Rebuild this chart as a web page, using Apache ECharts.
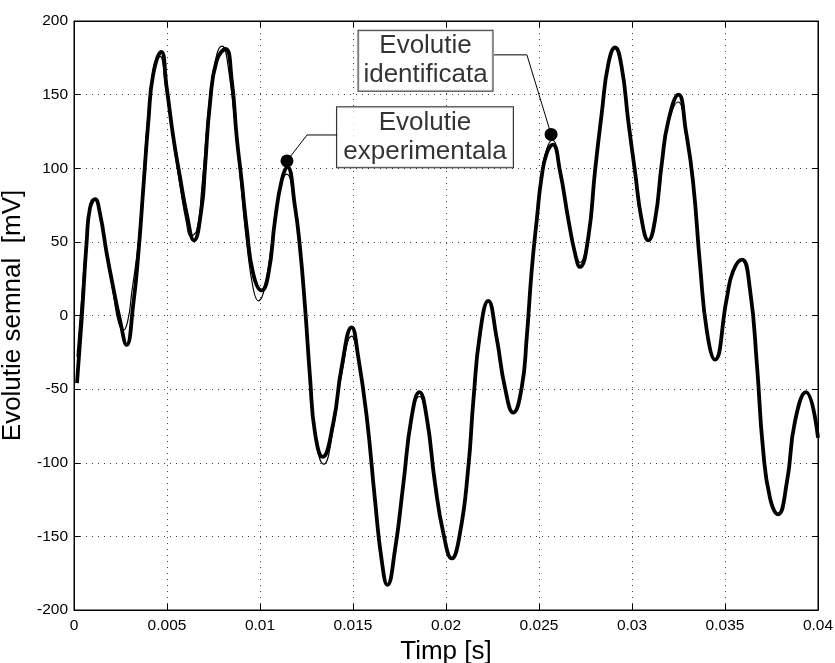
<!DOCTYPE html>
<html><head><meta charset="utf-8">
<script src="https://cdn.jsdelivr.net/npm/echarts@6/dist/echarts.min.js"></script>
<style>html,body{margin:0;padding:0;background:#fff}#c{width:835px;height:663px}</style>
</head><body><div id="c"></div>
<script>
// Thick curve (time [s], value [mV])
const tThick = [0.00016,0.00041,0.00068,0.00086,0.00113,0.0014,0.00176,0.00211,0.00247,0.00283,0.00319,0.00346,0.00373,0.004,0.00426,0.00469,0.00498,0.00534,0.0057,0.00606,0.00645,0.00686,0.00704,0.00731,0.00767,0.00815,0.00848,0.00875,0.00901,0.00928,0.00964,0.01009,0.01045,0.01081,0.01117,0.01147,0.01188,0.01215,0.01242,0.01269,0.01296,0.01337,0.01394,0.01439,0.01493,0.01528,0.01574,0.01618,0.01654,0.01685,0.01726,0.01771,0.01815,0.01857,0.01896,0.01941,0.01986,0.02031,0.02075,0.0212,0.02147,0.02183,0.02227,0.02272,0.02317,0.02362,0.02407,0.02434,0.02461,0.02488,0.02514,0.02541,0.02574,0.02613,0.02658,0.02694,0.0272,0.02765,0.02801,0.02837,0.02873,0.02909,0.02944,0.0298,0.03016,0.03052,0.03088,0.03124,0.0316,0.03195,0.0325,0.0329,0.03328,0.03366,0.03403,0.03446,0.0351,0.03543,0.03591,0.03634,0.03672,0.03704,0.03742,0.03785,0.03833,0.03876,0.03935,0.04];
const vThick = [-46,-3,50,73,79,69,42,19,-3,-20,8,42,87,132,164,179,155,121,94,69,51,73,100,144,173,181,160,121,92,60,28,17,28,65,92,101,74,46,6,-42,-80,-96,-73,-35,-8,-28,-69,-125,-166,-183,-159,-114,-69,-52,-69,-114,-148,-165,-148,-103,-58,-12,10,-15,-49,-66,-49,-15,31,65,94,110,116,98,65,42,33,53,98,137,171,182,169,132,98,65,51,65,103,132,150,125,91,34,-11,-30,12,30,38,18,-34,-90,-124,-135,-113,-72,-52,-83];
// Thin curve (time [s], value [mV])
const tThin = [0.00016,0.0004,0.00068,0.00086,0.00113,0.0014,0.00176,0.00211,0.0024,0.00265,0.0029,0.0031,0.00346,0.00373,0.004,0.0043,0.00444,0.00463,0.0049,0.00534,0.0057,0.00606,0.00626,0.0066,0.00686,0.00731,0.00767,0.00796,0.0083,0.00875,0.00901,0.00928,0.00964,0.00991,0.01027,0.01081,0.01117,0.01143,0.01188,0.01215,0.01242,0.01269,0.01296,0.01342,0.01394,0.01439,0.01493,0.01528,0.01574,0.01618,0.01654,0.01685,0.01726,0.01771,0.01815,0.01857,0.01896,0.01941,0.01986,0.02031,0.02075,0.0212,0.02147,0.02183,0.02227,0.02272,0.02317,0.02362,0.02407,0.02434,0.02461,0.02488,0.02514,0.02541,0.02572,0.02613,0.02658,0.02694,0.0272,0.02765,0.02801,0.02837,0.02873,0.02909,0.02944,0.0298,0.03016,0.03052,0.03088,0.03124,0.0316,0.03195,0.03248,0.0329,0.03328,0.03366,0.03403,0.03446,0.0351,0.03543,0.03591,0.03634,0.03672,0.03704,0.03742,0.03785,0.03833,0.03876,0.03935,0.04];
const vThin = [-28,10,55,74,79,68,40,15,-5,-10,-3,15,50,95,140,170,173,176,158,118,88,62,54,58,85,150,177,183,168,118,84,50,18,10,20,66,90,96,72,44,4,-44,-82,-101,-77,-40,-14,-30,-70,-125,-166,-183,-159,-114,-69,-55,-70,-114,-148,-165,-148,-103,-58,-12,10,-15,-49,-66,-49,-15,31,66,96,113,119,98,65,44,36,55,98,137,171,182,168,131,97,64,51,64,101,130,145,122,89,33,-11,-30,12,30,38,18,-34,-90,-124,-135,-113,-72,-52,-83];

const xTickLabels = ['0','0.005','0.01','0.015','0.02','0.025','0.03','0.035','0.04'];
const yTickLabels = ['-200','-150','-100','-50','0','50','100','150','200'];

// Annotations (data coordinates)
const annoTexts = ['Evolutie\nexperimentala', 'Evolutie\nidentificata'];
const annoMarkerT = [0.01145, 0.02565];
const annoMarkerV = [105, 123];
const annoElbowT = [0.01253, 0.02435];
const annoElbowV = [122.6, 177];
const annoEdgeT = [0.01419, 0.02258];
const annoBoxT = [0.01887, 0.0189];
const annoBoxV = [121, 173];

const FONT = 'Liberation Sans, Arial, sans-serif';
const zip = (a, b) => a.map((x, i) => [x, b[i]]);

const chart = echarts.init(document.getElementById('c'), null, {renderer: 'canvas'});

const axisCommon = {
  type: 'value',
  axisLine: {show: true, onZero: false, lineStyle: {color: '#000', width: 1}},
  axisTick: {show: true, inside: true, length: 6, lineStyle: {color: '#000'}},
};

const option = {
  backgroundColor: '#fff',
  animation: false,
  grid: {left: 74, right: 17, top: 21, bottom: 53, containLabel: false, outerBoundsMode: 'none',
         show: true, borderColor: '#000', borderWidth: 1},
  xAxis: [
    Object.assign({}, axisCommon, {
      min: 0, max: 0.04, interval: 0.005, position: 'bottom',
      name: 'Timp [s]', nameLocation: 'middle', nameGap: 24,
      nameTextStyle: {fontFamily: FONT, fontSize: 26, color: '#000'},
      axisLabel: {show: true, margin: 8, fontFamily: FONT, fontSize: 15.5, color: '#000',
        formatter: (v, i) => xTickLabels[i]},
      splitLine: {show: true, lineStyle: {color: '#444', type: [1, 5], width: 1}}
    }),
    Object.assign({}, axisCommon, {
      min: 0, max: 0.04, interval: 0.005, position: 'top',
      axisLabel: {show: false}, splitLine: {show: false}
    })
  ],
  yAxis: [
    Object.assign({}, axisCommon, {
      min: -200, max: 200, interval: 50, position: 'left',
      name: 'Evolutie semnal  [mV]', nameLocation: 'middle', nameGap: 36,
      nameTextStyle: {fontFamily: FONT, fontSize: 26, color: '#000'},
      axisLabel: {show: true, margin: 6, fontFamily: FONT, fontSize: 15.5, color: '#000',
        formatter: (v, i) => yTickLabels[i]},
      splitLine: {show: true, lineStyle: {color: '#444', type: [1, 5], width: 1}}
    }),
    Object.assign({}, axisCommon, {
      min: -200, max: 200, interval: 50, position: 'right',
      axisLabel: {show: false}, splitLine: {show: false}
    })
  ],
  series: [
    {
      name: 'thick', type: 'line', data: zip(tThick, vThick), smooth: 0.5,
      showSymbol: false, symbol: 'none',
      lineStyle: {color: '#000', width: 3.8}, z: 3
    },
    {
      name: 'thin', type: 'line', data: zip(tThin, vThin), smooth: 0.5,
      showSymbol: false, symbol: 'none',
      lineStyle: {color: '#000', width: 1.2}, z: 4
    },
    {
      name: 'leader1', type: 'line', symbol: 'none', silent: true,
      data: [[annoMarkerT[0], annoMarkerV[0]], [annoElbowT[0], annoElbowV[0]], [annoEdgeT[0], annoElbowV[0]]],
      lineStyle: {color: '#000', width: 1}, z: 5
    },
    {
      name: 'leader2', type: 'line', symbol: 'none', silent: true,
      data: [[annoMarkerT[1], annoMarkerV[1]], [annoElbowT[1], annoElbowV[1]], [annoEdgeT[1], annoElbowV[1]]],
      lineStyle: {color: '#000', width: 1}, z: 5
    },
    {
      name: 'markers', type: 'scatter', symbol: 'circle', symbolSize: 13,
      data: zip(annoMarkerT, annoMarkerV),
      itemStyle: {color: '#000', opacity: 1}, z: 6
    },
    {
      name: 'boxes', type: 'scatter', symbolSize: 1,
      itemStyle: {color: 'rgba(0,0,0,0)'}, z: 7,
      data: annoBoxT.map((t, i) => ({
        value: [t, annoBoxV[i]],
        label: {width: i === 0 ? 166 : 124}
      })),
      label: {
        show: true, position: 'inside', align: 'center', verticalAlign: 'middle',
        formatter: p => annoTexts[p.dataIndex],
        fontFamily: FONT, fontSize: 26, lineHeight: 29, color: '#000',
        backgroundColor: '#fff', borderColor: '#000', borderWidth: 1,
        padding: [1, 5, 1, 5]
      }
    }
  ]
};
chart.setOption(option);
</script></body></html>
